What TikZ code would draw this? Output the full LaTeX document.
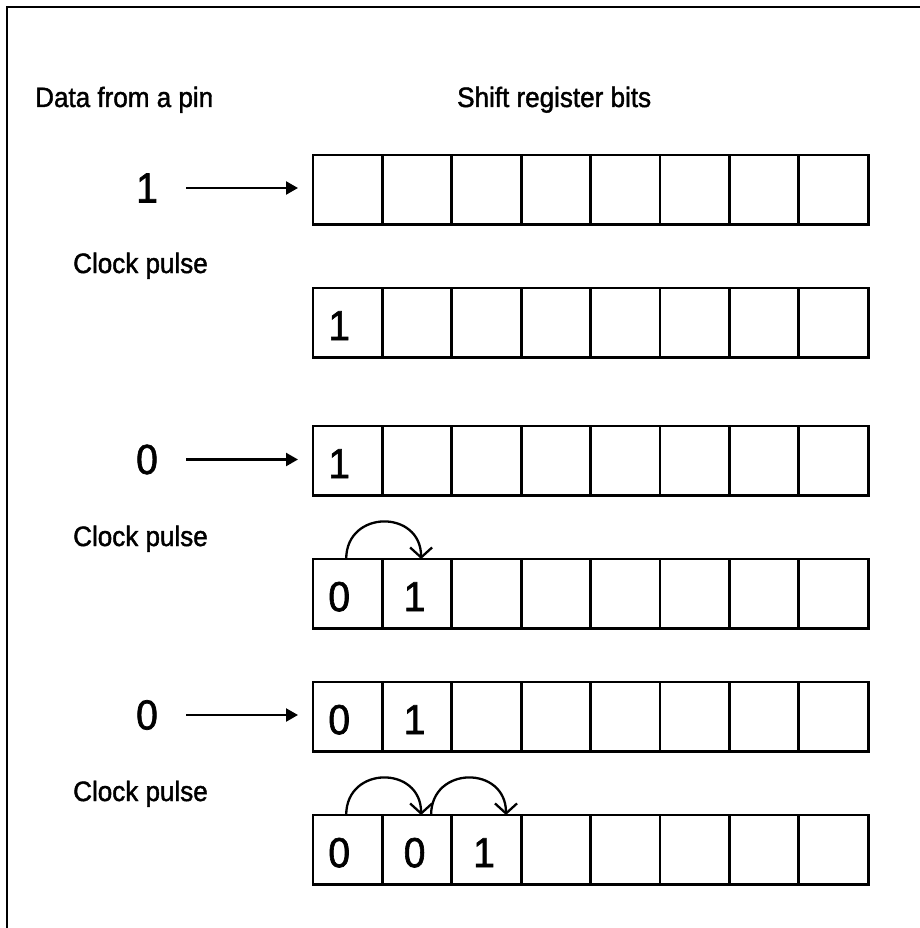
\documentclass[tikz,border=0pt]{standalone}
\usepackage{fontspec}
\setmainfont{Liberation Sans}[FakeStretch=0.93, FakeBold=1.5]
\usetikzlibrary{arrows.meta}

\begin{document}
\begin{tikzpicture}[x=1pt, y=1pt,
    frameLine/.style={line width=2.8pt},
    regCell/.style={draw, line width=2.8pt, rectangle, minimum width=69.4pt, minimum height=69.4pt, inner sep=0pt, outer sep=0pt},
    headLabel/.style={anchor=base west, inner sep=0pt, font=\fontsize{28}{32}\selectfont},
    pinBit/.style={inner sep=0pt, font=\fontsize{42}{48}\selectfont},
    cellBit/.style={inner sep=0pt, font=\fontsize{42}{48}\selectfont, yshift=-3pt},
    pinArrow/.style={line width=2.3pt, -{Triangle[length=12pt, width=13pt]}, shorten <=28pt, shorten >=15pt},
    shiftArc/.style={line width=2.3pt, -{Straight Barb[length=10pt, width=22pt]}, out=90, in=90, looseness=1.7},
]
\useasboundingbox (0,0) rectangle (919,-928);
\draw[frameLine] (925,-7) -- (7,-7) -- (7,-935);

% labels
\node[headLabel] (dataLbl)  at (35,-107)  {Data from a pin};
\node[headLabel] (shiftLbl) at (457,-107) {Shift register bits};
\node[headLabel] (clk1) at (73,-273) {Clock pulse};
\node[headLabel] (clk2) at (73,-546) {Clock pulse};
\node[headLabel] (clk3) at (73,-801) {Clock pulse};

% register rows
\foreach \row/\ypos in {1/189.7, 2/322.7, 3/460.7, 4/593.7, 5/716.7, 6/849.7}
    \foreach \col in {1,...,8}
        \node[regCell] (r\row-\col) at ({313+69.4*(\col-0.5)}, -\ypos) {};

% incoming bits
\node[pinBit] (in1) at (147,-188)   {1};
\node[pinBit] (in3) at (147,-459.5) {0};
\node[pinBit] (in5) at (147,-715)   {0};
\draw[pinArrow] (in1.east) -- (in1.east -| r1-1.west);
\draw[pinArrow] (in3.east) -- (in3.east -| r3-1.west);
\draw[pinArrow] (in5.east) -- (in5.east -| r5-1.west);

% stored bits
\node[cellBit, xshift=-8.5pt] (b21) at (r2-1) {1};
\node[cellBit, xshift=-8.5pt] (b31) at (r3-1) {1};
\node[cellBit, xshift=-8.5pt] (b41) at (r4-1) {0};
\node[cellBit, xshift=-2.5pt] (b42) at (r4-2) {1};
\node[cellBit, xshift=-8.5pt] (b51) at (r5-1) {0};
\node[cellBit, xshift=-2.5pt] (b52) at (r5-2) {1};
\node[cellBit, xshift=-8.5pt] (b61) at (r6-1) {0};
\node[cellBit, xshift=-2.5pt] (b62) at (r6-2) {0};
\node[cellBit, xshift=-2.5pt] (b63) at (r6-3) {1};

% shifts
\draw[shiftArc] ([xshift=-1.5pt]r4-1.north) to ([xshift=4pt]r4-2.north);
\draw[shiftArc] ([xshift=-1.5pt]r6-1.north) to ([xshift=4pt]r6-2.north);
\draw[shiftArc] ([xshift=14pt]r6-2.north) to ([xshift=19.5pt]r6-3.north);
\end{tikzpicture}
\end{document}
